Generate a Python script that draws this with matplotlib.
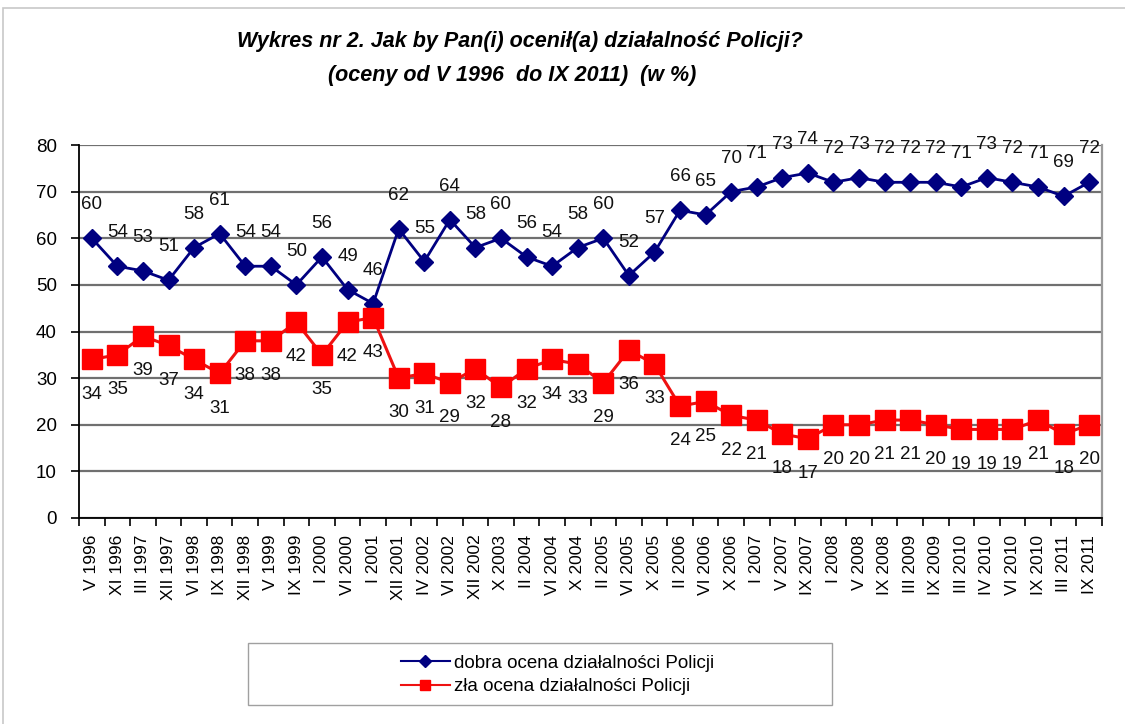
import matplotlib
matplotlib.use("Agg")
import matplotlib.pyplot as plt
from matplotlib import font_manager
from matplotlib.lines import Line2D
from matplotlib.patches import Rectangle
import numpy as np

periods = ["V 1996", "XI 1996", "III 1997", "XII 1997", "VI 1998", "IX 1998", "XII 1998",
           "V 1999", "IX 1999", "I 2000", "VI 2000", "I 2001", "XII 2001", "IV 2002",
           "VI 2002", "XII 2002", "X 2003", "II 2004", "VI 2004", "X 2004", "II 2005",
           "VI 2005", "X 2005", "II 2006", "VI 2006", "X 2006", "I 2007", "V 2007",
           "IX 2007", "I 2008", "V 2008", "IX 2008", "III 2009", "IX 2009", "III 2010",
           "IV 2010", "VI 2010", "IX 2010", "III 2011", "IX 2011"]
good = [60, 54, 53, 51, 58, 61, 54, 54, 50, 56, 49, 46, 62, 55, 64, 58, 60, 56, 54, 58,
        60, 52, 57, 66, 65, 70, 71, 73, 74, 72, 73, 72, 72, 72, 71, 73, 72, 71, 69, 72]
bad = [34, 35, 39, 37, 34, 31, 38, 38, 42, 35, 42, 43, 30, 31, 29, 32, 28, 32, 34, 33,
       29, 36, 33, 24, 25, 22, 21, 18, 17, 20, 20, 21, 21, 20, 19, 19, 19, 21, 18, 20]
series_names = ["dobra ocena działalności Policji", "zła ocena działalności Policji"]
title_lines = ["Wykres nr 2. Jak by Pan(i) ocenił(a) działalność Policji?",
               "(oceny od V 1996  do IX 2011)  (w %)"]


def has_font(name):
    try:
        font_manager.findfont(font_manager.FontProperties(family=name), fallback_to_default=False)
        return True
    except ValueError:
        return False


plt.rcParams["font.family"] = ["Liberation Sans", "DejaVu Sans"]
narrow = has_font("Liberation Sans Narrow")
title_font = "Liberation Sans Narrow" if narrow else "Liberation Sans"
title_size = 17 if narrow else 15.5

W, H = 1125, 724
fig = plt.figure(figsize=(W / 100, H / 100), dpi=100)
ax = fig.add_axes([79 / W, 1 - 518 / H, (1102 - 79) / W, (518 - 145) / H])

x = np.arange(len(periods))
ax.plot(x, good, color="#000080", lw=2, marker="D", ms=9, zorder=3)
ax.plot(x, bad, color="#ee1111", lw=2.2, marker="s", ms=14, mfc="#ff0000", mec="#ff0000", zorder=3)

# value labels: good above, bad below
for xi, v in zip(x, good):
    ax.annotate(str(v), (xi, v), xytext=(0, 24), textcoords="offset points",
                ha="center", va="center", fontsize=13.5, color="#111111", zorder=4)
for xi, v in zip(x, bad):
    ax.annotate(str(v), (xi, v), xytext=(0, -25), textcoords="offset points",
                ha="center", va="center", fontsize=13.5, color="#111111", zorder=4)

ax.set_xlim(-0.5, len(periods) - 0.5)
ax.set_ylim(0, 80)
ax.set_yticks(range(0, 81, 10))
ax.tick_params(axis="y", length=6, width=1.2, pad=10, labelsize=13.5)
ax.set_xticks(x)
ax.set_xticklabels(periods, rotation=90, fontsize=12.5)
ax.set_xticks(np.arange(-0.5, len(periods), 1), minor=True)
ax.tick_params(axis="x", which="major", length=0, pad=12)
ax.tick_params(axis="x", which="minor", length=6, width=1.2)

ax.yaxis.grid(True, color="#707070", lw=1.6)
ax.set_axisbelow(True)
ax.spines["top"].set_visible(False)
ax.spines["left"].set_linewidth(1.3)
ax.spines["bottom"].set_linewidth(1.3)
ax.spines["right"].set_color("#9a9a9a")
ax.spines["right"].set_linewidth(1.6)

fig.text(520 / W, 1 - 41 / H, title_lines[0], ha="center", va="center",
         fontsize=title_size, fontweight="bold", fontstyle="italic", family=title_font)
fig.text(512 / W, 1 - 75 / H, title_lines[1], ha="center", va="center",
         fontsize=title_size, fontweight="bold", fontstyle="italic", family=title_font)

# legend box and entries
fig.patches.append(Rectangle((248 / W, 1 - 705 / H), (832 - 248) / W, 62 / H,
                             transform=fig.transFigure, fill=False, edgecolor="#a0a0a0", lw=1))
handles = [Line2D([], [], color="#000080", lw=1.5, marker="D", ms=6),
           Line2D([], [], color="#ee1111", lw=1.5, marker="s", ms=7, mfc="#ff0000", mec="#ff0000")]
fig.legend(handles, series_names, loc="center left", bbox_to_anchor=(384 / W, 1 - 675 / H),
           frameon=False, fontsize=13.5, handlelength=2.6, handletextpad=0.25, labelspacing=0.35)

# outer chart border (left and top visible)
fig.patches.append(Rectangle((3 / W, -0.1), 1.2, 1 - 8 / H + 0.1, transform=fig.transFigure,
                             fill=False, edgecolor="#c8c8c8", lw=1.2))

fig.savefig("out.png", dpi=100)
